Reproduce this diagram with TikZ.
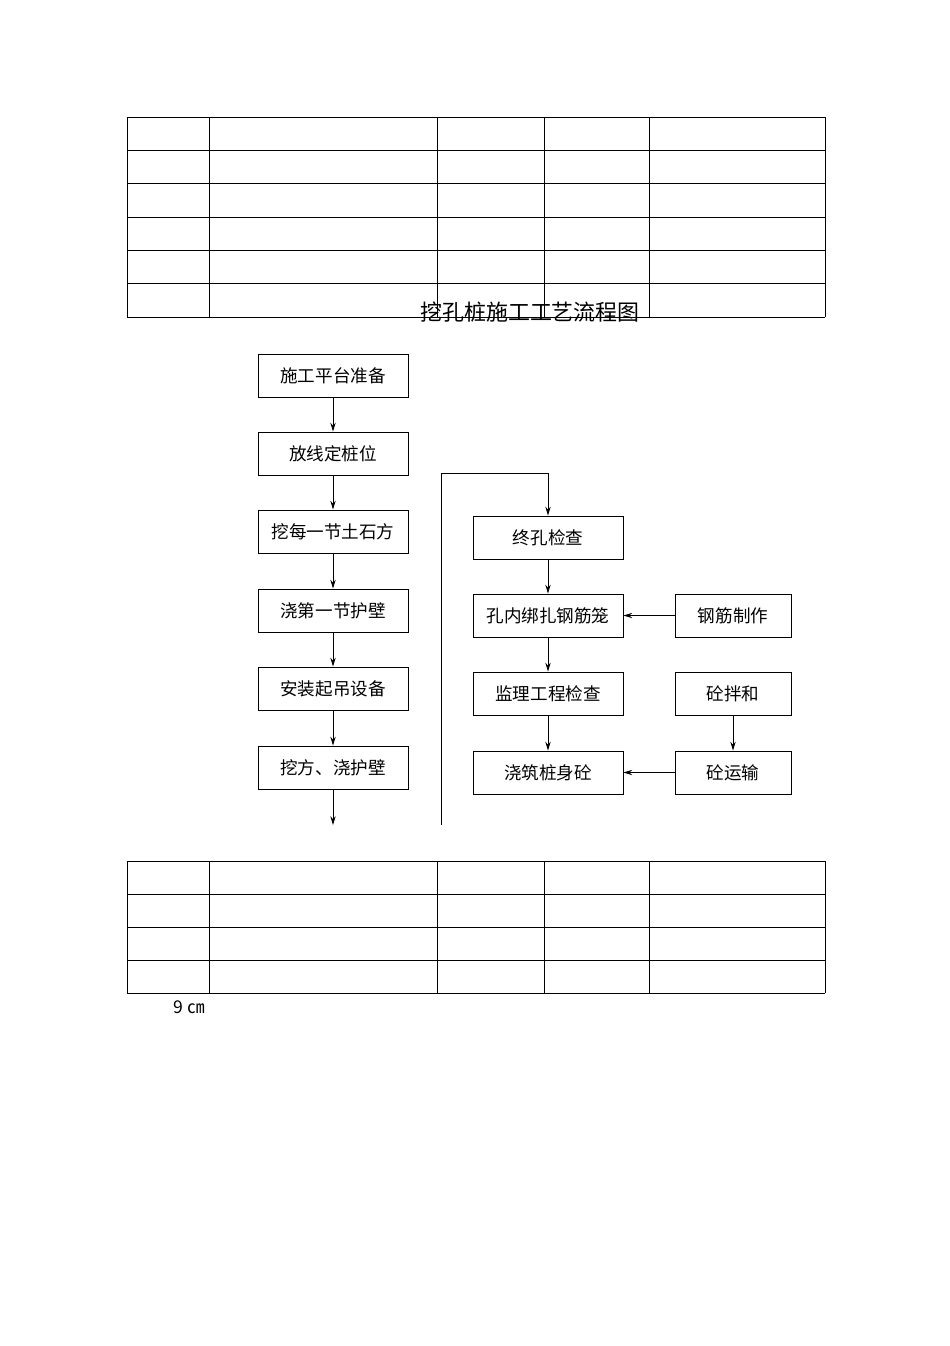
\documentclass[tikz,border=0pt]{standalone}
\usepackage{fontspec}
\newfontfamily\cjk{Noto Sans CJK SC}
\usetikzlibrary{arrows.meta}
\begin{document}
\begin{tikzpicture}[x=0.02cm,y=-0.02cm,
  bx/.style={draw,line width=0.5pt,inner sep=0pt,font=\cjk\fontsize{10}{12}\selectfont},
  arr/.style={draw,line width=0.5pt,-{Stealth[length=5pt,width=3pt]}},
  tl/.style={line width=0.5pt}]
\useasboundingbox (0,0) rectangle (950,1346);
% top table
\foreach \y in {117,150,183,217,250,283,317} \draw[tl] (127,\y) -- (825,\y);
\foreach \x in {127,209,437,544,649,825} \draw[tl] (\x,117) -- (\x,317);
% bottom table
\foreach \y in {861,894,927,960,993} \draw[tl] (127,\y) -- (825,\y);
\foreach \x in {127,209,437,544,649,825} \draw[tl] (\x,861) -- (\x,993);
\node[font=\cjk\fontsize{12.5}{14}\selectfont] (title) at (530,312) {挖孔桩施工工艺流程图};
\node[font=\cjk\fontsize{10}{12}\selectfont] (note) at (189,1007) {9 ㎝};
% left column
\foreach \n/\y/\t in {a1/354/施工平台准备,a2/432/放线定桩位,a3/510/挖每一节土石方,a4/589/浇第一节护壁,a5/667/安装起吊设备,a6/746/挖方、浇护壁}
  \node[bx,minimum width=3cm,minimum height=0.86cm] (\n) at (333,\y+21.5) {\t};
\draw[arr] (a1) -- (a2);
\draw[arr] (a2) -- (a3);
\draw[arr] (a3) -- (a4);
\draw[arr] (a4) -- (a5);
\draw[arr] (a5) -- (a6);
\coordinate (e1) at (333,825);
\draw[arr] (a6) -- (e1);
% right column
\foreach \n/\y/\t in {b1/516/终孔检查,b2/594/孔内绑扎钢筋笼,b3/672/监理工程检查,b4/751/浇筑桩身砼}
  \node[bx,minimum width=3cm,minimum height=0.86cm] (\n) at (548,\y+21.5) {\t};
\foreach \n/\y/\t in {c1/594/钢筋制作,c2/672/砼拌和,c3/751/砼运输}
  \node[bx,minimum width=2.32cm,minimum height=0.86cm] (\n) at (733,\y+21.5) {\t};
\coordinate (s0) at (441,825);
\coordinate (s1) at (441,473);
\draw[arr] (s0) -- (s1) -| (b1);
\draw[arr] (b1) -- (b2);
\draw[arr] (b2) -- (b3);
\draw[arr] (b3) -- (b4);
\draw[arr] (c1) -- (b2);
\draw[arr] (c2) -- (c3);
\draw[arr] (c3) -- (b4);
\end{tikzpicture}
\end{document}
